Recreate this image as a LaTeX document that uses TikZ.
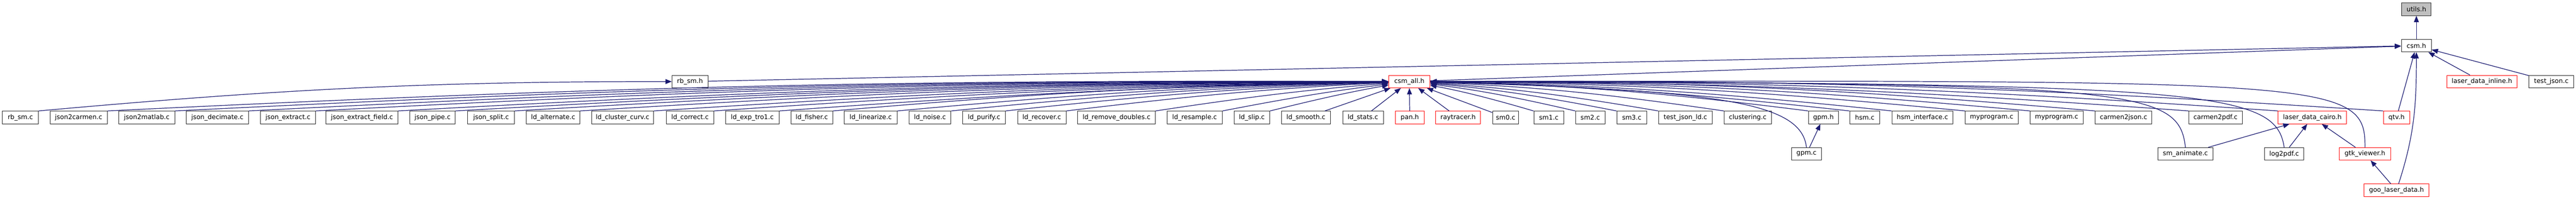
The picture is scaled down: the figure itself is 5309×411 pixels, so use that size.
\documentclass[tikz,border=0pt]{standalone}
\usepackage{fontspec}
\setmainfont{DejaVu Sans}
\usetikzlibrary{arrows.meta,calc}
\definecolor{incblue}{HTML}{191970}
\begin{document}
\begin{tikzpicture}[x=1pt,y=1pt,
  file/.style={draw=black!85,line width=1pt,minimum height=26pt,inner sep=0pt,font=\fontsize{13.3}{16}\selectfont},
  redfile/.style={file,draw=red},
  incl/.style={draw=incblue,line width=1.3pt,-{Triangle[length=13pt,width=10pt]}},
  lbend/.style={to path={.. controls ($(\tikztostart)!0.39!#1:(\tikztotarget)$) and ($(\tikztotarget)!0.39!-#1:(\tikztostart)$) .. (\tikztotarget)}},
  rbend/.style={to path={.. controls ($(\tikztostart)!0.39!-#1:(\tikztotarget)$) and ($(\tikztotarget)!0.39!#1:(\tikztostart)$) .. (\tikztotarget)}}]
\useasboundingbox (0,0) rectangle (5309,411);
\node[file,fill=black!25,minimum width=61pt] (utils) at (4980,392) {utils.h};
\node[file,minimum width=62pt] (csm) at (4980,317) {csm.h};
\node[file,minimum width=74pt] (rbsmh) at (1422,243) {rb\_sm.h};
\node[redfile,minimum width=85pt] (csmall) at (2904.5,243) {csm\_all.h};
\node[redfile,minimum width=145pt] (ldinline) at (5115,243) {laser\_data\_inline.h};
\node[file,minimum width=92pt] (testjson) at (5258,243) {test\_json.c};
\node[file,minimum width=74pt] (rbsmc) at (42,169) {rb\_sm.c};
\node[file,minimum width=118pt] (jsoncarmen) at (162,169) {json2carmen.c};
\node[file,minimum width=115pt] (jsonmatlab) at (302.5,169) {json2matlab.c};
\node[file,minimum width=128pt] (jsondecimate) at (448,169) {json\_decimate.c};
\node[file,minimum width=113pt] (jsonextract) at (593.5,169) {json\_extract.c};
\node[file,minimum width=148pt] (jsonfield) at (746,169) {json\_extract\_field.c};
\node[file,minimum width=93pt] (jsonpipe) at (891.5,169) {json\_pipe.c};
\node[file,minimum width=96pt] (jsonsplit) at (1012,169) {json\_split.c};
\node[file,minimum width=110pt] (ldalternate) at (1140,169) {ld\_alternate.c};
\node[file,minimum width=128pt] (ldcluster) at (1283,169) {ld\_cluster\_curv.c};
\node[file,minimum width=98pt] (ldcorrect) at (1422,169) {ld\_correct.c};
\node[file,minimum width=111pt] (ldexp) at (1550.5,169) {ld\_exp\_tro1.c};
\node[file,minimum width=86pt] (ldfisher) at (1673,169) {ld\_fisher.c};
\node[file,minimum width=109pt] (ldlinearize) at (1794.5,169) {ld\_linearize.c};
\node[file,minimum width=87pt] (ldnoise) at (1916.5,169) {ld\_noise.c};
\node[file,minimum width=88pt] (ldpurify) at (2028,169) {ld\_purify.c};
\node[file,minimum width=100pt] (ldrecover) at (2147,169) {ld\_recover.c};
\node[file,minimum width=160pt] (ldremove) at (2301,169) {ld\_remove\_doubles.c};
\node[file,minimum width=114pt] (ldresample) at (2462,169) {ld\_resample.c};
\node[file,minimum width=74pt] (ldslip) at (2580,169) {ld\_slip.c};
\node[file,minimum width=101pt] (ldsmooth) at (2691.5,169) {ld\_smooth.c};
\node[file,minimum width=84pt] (ldstats) at (2809,169) {ld\_stats.c};
\node[redfile,minimum width=59pt] (pan) at (2905.5,169) {pan.h};
\node[redfile,minimum width=92pt] (raytracer) at (3005,169) {raytracer.h};
\node[file,minimum width=54pt] (smzero) at (3103,169) {sm0.c};
\node[file,minimum width=62pt] (smone) at (3192,169) {sm1.c};
\node[file,minimum width=61pt] (smtwo) at (3277.5,169) {sm2.c};
\node[file,minimum width=62pt] (smthree) at (3363,169) {sm3.c};
\node[file,minimum width=111pt] (testjsonld) at (3473.5,169) {test\_json\_ld.c};
\node[file,minimum width=98pt] (clustering) at (3602,169) {clustering.c};
\node[file,minimum width=62pt] (gpmh) at (3758,169) {gpm.h};
\node[file,minimum width=62pt] (hsm) at (3843,169) {hsm.c};
\node[file,minimum width=126pt] (hsminterface) at (3962,169) {hsm\_interface.c};
\node[file,minimum width=109pt] (myprogA) at (4104.5,169) {myprogram.c};
\node[file,minimum width=109pt] (myprogB) at (4238.5,169) {myprogram.c};
\node[file,minimum width=117pt] (carmenjson) at (4376.5,169) {carmen2json.c};
\node[file,minimum width=110pt] (carmenpdf) at (4566,169) {carmen2pdf.c};
\node[redfile,minimum width=141pt] (ldcairo) at (4765.5,169) {laser\_data\_cairo.h};
\node[redfile,minimum width=54pt] (qtv) at (4939,169) {qtv.h};
\node[file,minimum width=62pt] (gpmc) at (3723,94) {gpm.c};
\node[file,minimum width=114pt] (smanimate) at (4504,94) {sm\_animate.c};
\node[file,minimum width=81pt] (logpdf) at (4707.5,94) {log2pdf.c};
\node[redfile,minimum width=106pt] (gtkviewer) at (4874,94) {gtk\_viewer.h};
\node[redfile,minimum width=134pt] (goo) at (4939,19) {goo\_laser\_data.h};
\draw[incl] (csm) -- (utils);
\draw[incl] (rbsmh) -- (csm);
\draw[incl] (csmall) -- (csm);
\draw[incl] (ldinline) -- (csm);
\draw[incl] (testjson) -- (csm);
\draw[incl] (qtv) -- (csm);
\draw[incl] (goo) to[out=72,in=-90] (csm);
\draw[incl] (rbsmc.north east) .. controls +(500,45) and +(-500,0) .. (rbsmh.west);
\draw[incl] (jsoncarmen.north east) to[lbend=1.5] (csmall);
\draw[incl] (jsonmatlab.north east) to[lbend=1.5] (csmall);
\draw[incl] (jsondecimate.north east) to[lbend=1.5] (csmall);
\draw[incl] (jsonextract.north east) to[lbend=1.5] (csmall);
\draw[incl] (jsonfield.north east) to[lbend=1.5] (csmall);
\draw[incl] (jsonpipe.north east) to[lbend=1.5] (csmall);
\draw[incl] (jsonsplit.north east) to[lbend=1.5] (csmall);
\draw[incl] (ldalternate.north east) to[lbend=1.5] (csmall);
\draw[incl] (ldcluster.north east) to[lbend=1.5] (csmall);
\draw[incl] (ldcorrect.north east) to[lbend=1.5] (csmall);
\draw[incl] (ldexp.north east) to[lbend=1.5] (csmall);
\draw[incl] (ldfisher.north east) to[lbend=2] (csmall);
\draw[incl] (ldlinearize.north east) to[lbend=2] (csmall);
\draw[incl] (ldnoise.north east) to[lbend=2] (csmall);
\draw[incl] (ldpurify.north east) to[lbend=2] (csmall);
\draw[incl] (ldrecover.north east) to[lbend=2] (csmall);
\draw[incl] (ldremove.north east) to[lbend=2] (csmall);
\draw[incl] (ldresample.north east) to[lbend=2] (csmall);
\draw[incl] (ldslip.north east) to[lbend=2] (csmall);
\draw[incl] (ldsmooth) -- (csmall);
\draw[incl] (ldstats) -- (csmall);
\draw[incl] (pan) -- (csmall);
\draw[incl] (raytracer) -- (csmall);
\draw[incl] (smzero) -- (csmall);
\draw[incl] (smone.north west) to[rbend=3] (csmall);
\draw[incl] (smtwo.north west) to[rbend=3] (csmall);
\draw[incl] (smthree.north west) to[rbend=3] (csmall);
\draw[incl] (testjsonld.north west) to[rbend=3] (csmall);
\draw[incl] (clustering.north west) to[rbend=3] (csmall);
\draw[incl] (gpmh.north west) to[rbend=3] (csmall);
\draw[incl] (hsm.north west) to[rbend=2.5] (csmall);
\draw[incl] (hsminterface.north west) to[rbend=2.5] (csmall);
\draw[incl] (myprogA.north west) to[rbend=2.5] (csmall);
\draw[incl] (myprogB.north west) to[rbend=2.5] (csmall);
\draw[incl] (carmenjson.north west) to[rbend=2.5] (csmall);
\draw[incl] (carmenpdf.north west) to[rbend=2] (csmall);
\draw[incl] (ldcairo.north west) to[rbend=2] (csmall);
\draw[incl] (qtv.north west) to[rbend=2] (csmall);
\draw[incl] (gpmc.north) .. controls (3712,200) and (3550,225) .. (csmall);
\draw[incl] (smanimate.north) .. controls (4490,230) and (4400,240) .. (csmall);
\draw[incl] (logpdf.north) .. controls (4690,225) and (4550,240) .. (csmall);
\draw[incl] (gtkviewer.north) .. controls (4876,250) and (4800,245) .. (csmall);
\draw[incl] (gpmc) -- (gpmh);
\draw[incl] (smanimate) -- (ldcairo);
\draw[incl] (logpdf) -- (ldcairo);
\draw[incl] (gtkviewer) -- (ldcairo);
\draw[incl] (goo) -- (gtkviewer);
\end{tikzpicture}
\end{document}
